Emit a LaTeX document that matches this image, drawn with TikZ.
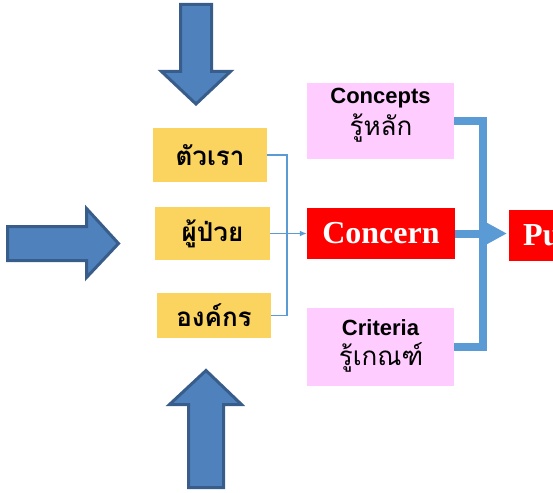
\documentclass[tikz,border=0pt]{standalone}
\usepackage{fontspec}
\setmainfont{Liberation Serif}
\newfontfamily\arialf{Liberation Sans}
\newfontfamily\thaifont[Script=Thai]{Loma}
\usetikzlibrary{arrows.meta}
\definecolor{arrowfill}{HTML}{4F81BD}
\definecolor{arrowedge}{HTML}{385D8A}
\definecolor{gold}{HTML}{FAD45F}
\definecolor{lilac}{HTML}{FFCCFF}
\definecolor{linkblue}{HTML}{5B9BD5}
\tikzset{
  blockarrow/.style={fill=arrowfill, draw=arrowedge, line width=3pt, line join=miter},
  goldbox/.style={rectangle, fill=gold, inner sep=0pt, font=\thaifont\bfseries\fontsize{26}{30}\selectfont},
  lilacbox/.style={rectangle, fill=lilac, inner sep=0pt},
  engtext/.style={anchor=base, inner sep=0pt, font=\arialf\bfseries\fontsize{22}{26}\selectfont},
  thaitext/.style={anchor=base, inner sep=0pt, font=\thaifont\fontsize{26}{30}\selectfont},
  redbox/.style={rectangle, fill=red, text=white, inner sep=0pt, font=\bfseries\fontsize{32}{36}\selectfont},
  thinlink/.style={draw=linkblue, line width=1.3pt},
  thicklink/.style={draw=linkblue, line width=8pt, line join=miter},
}
\begin{document}
\begin{tikzpicture}[x=1pt,y=-1pt]
\useasboundingbox (0,0) rectangle (553,492);
\begin{scope}
\clip (0,0) rectangle (553,492);

% three block arrows pointing at the group of boxes
\draw[blockarrow] (180.5,4.5) -- (211.5,4.5) -- (211.5,71.5) -- (230.5,71.5)
  -- (196,104) -- (161.5,71.5) -- (180.5,71.5) -- cycle;
\draw[blockarrow] (7.5,226.5) -- (86.5,226.5) -- (86.5,208.5) -- (118.5,243.5)
  -- (86.5,277.5) -- (86.5,260.5) -- (7.5,260.5) -- cycle;
\draw[blockarrow] (206,370.5) -- (241.5,404.5) -- (223.5,404.5) -- (223.5,487.5)
  -- (188.5,487.5) -- (188.5,404.5) -- (169.5,404.5) -- cycle;

% left column
\node[goldbox, minimum width=114, minimum height=54] (we)   at (210,155)   {ตัวเรา};
\node[goldbox, minimum width=115, minimum height=53] (pat)  at (212.5,233.5) {ผู้ป่วย};
\node[goldbox, minimum width=114, minimum height=45] (org)  at (214,315.5) {องค์กร};

% middle column
\node[lilacbox, minimum width=147, minimum height=76] (conc) at (380.5,121) {};
\node[engtext]  (concen) at (380.5,103) {Concepts};
\node[thaitext] (concth) at (381,135) {รู้หลัก};
\node[redbox, minimum width=148, minimum height=51] (cern) at (381,233.5) {Concern};
\node[lilacbox, minimum width=147, minimum height=78] (crit) at (380.5,347) {};
\node[engtext]  (criten) at (380.5,335) {Criteria};
\node[thaitext] (critth) at (381,365) {รู้เกณฑ์};

% right box, running past the edge
\node[redbox, anchor=west, text width=122, inner xsep=14, align=left, minimum height=51] (pu) at (509,235.5) {Pu};

% thin links into Concern
\coordinate (j) at (287,233.5);
\draw[thinlink] (we.east) -| (j);
\draw[thinlink] (org.east) -| (j);
\draw[thinlink, -{Latex[length=7pt,width=6pt]}] (pat.east) -- (pat.east -| cern.west);

% thick links into the right box
\coordinate (k) at (483,233.5);
\draw[thicklink] (conc.east) -| (k);
\draw[thicklink] (crit.east) -| (k);
\draw[thicklink, -{Triangle[length=26pt,width=26pt]}, shorten >=2pt] (cern.east) -- (cern.east -| pu.west);
\end{scope}
\end{tikzpicture}
\end{document}
